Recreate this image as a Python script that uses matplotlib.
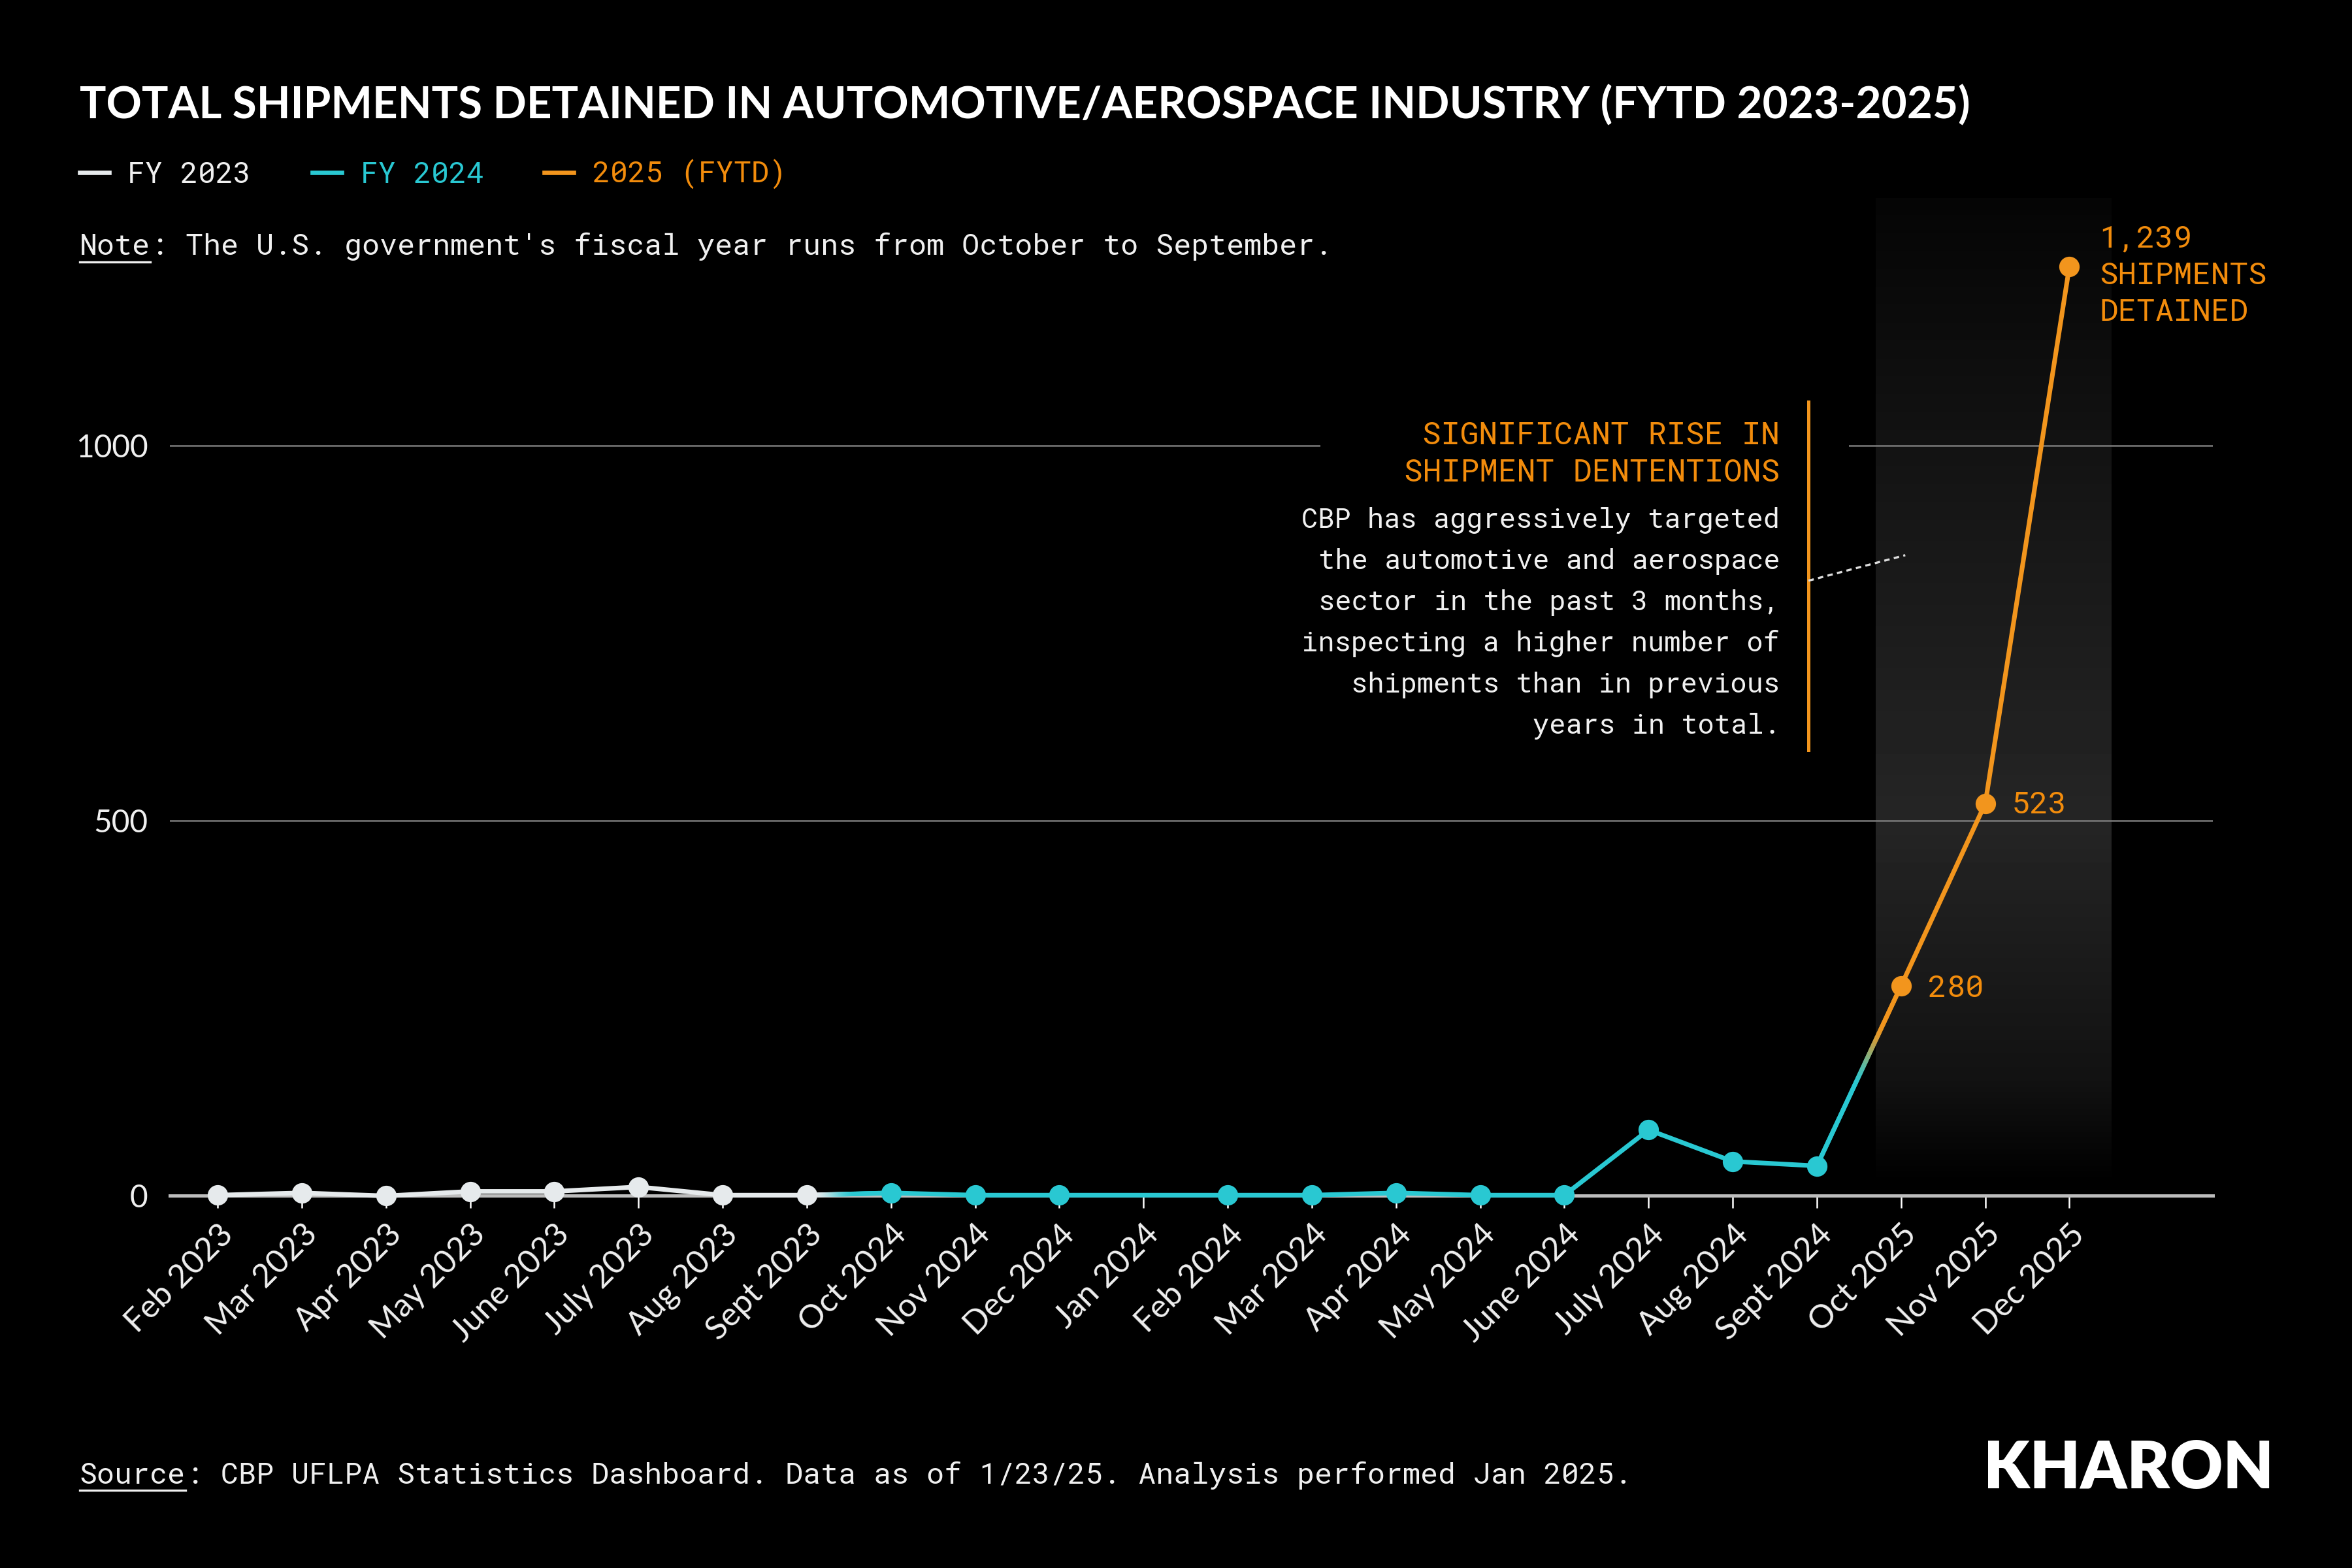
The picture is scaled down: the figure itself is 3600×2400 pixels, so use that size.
import numpy as np
import matplotlib
matplotlib.use("Agg")
import matplotlib.pyplot as plt
from matplotlib.collections import LineCollection
from matplotlib.colors import to_rgb
from matplotlib.lines import Line2D
from matplotlib.patches import Rectangle

MONO = ["Roboto Mono", "DejaVu Sans Mono", "Liberation Mono"]
SANS = ["Lato", "DejaVu Sans"]

months = [
    "Feb 2023", "Mar 2023", "Apr 2023", "May 2023", "June 2023", "July 2023",
    "Aug 2023", "Sept 2023", "Oct 2024", "Nov 2024", "Dec 2024", "Jan 2024",
    "Feb 2024", "Mar 2024", "Apr 2024", "May 2024", "June 2024", "July 2024",
    "Aug 2024", "Sept 2024", "Oct 2025", "Nov 2025", "Dec 2025",
]
fy2023 = [1, 4, 0, 6, 6, 12, 1, 1]
fy2024 = [4, 1, 1, None, 1, 1, 4, 1, 1, 88, 46, 40]  # no value for Jan 2024
fy2025 = [280, 523, 1239]
yticks = [0, 500, 1000]

WHITE = "#e6eaec"
CYAN = "#29c8d2"
ORANGE = "#f2951d"
ORANGE_TXT = "#f28c0c"
TEXT = "#f0f0f0"


def gradient_segment(ax, p0, p1, c0, c1, a, b, n=80):
    # one connecting segment, split only so the colour can fade along it
    t = np.linspace(0, 1, n + 1)
    xs = p0[0] + (p1[0] - p0[0]) * t
    ys = p0[1] + (p1[1] - p0[1]) * t
    segs = np.stack([np.column_stack([xs[:-1], ys[:-1]]),
                     np.column_stack([xs[1:], ys[1:]])], axis=1)
    tm = np.clip(((t[:-1] + t[1:]) / 2 - a) / (b - a), 0, 1)
    tm = tm * tm * (3 - 2 * tm)
    c0, c1 = np.array(to_rgb(c0)), np.array(to_rgb(c1))
    cols = c0 + (c1 - c0) * tm[:, None]
    lc = LineCollection(segs, colors=cols, linewidths=1.7, capstyle="round",
                        zorder=3, clip_on=False)
    ax.add_collection(lc)


fig = plt.figure(figsize=(12, 8), dpi=300, facecolor="black")
ax = fig.add_axes([0.0721, 0.2373, 0.8686, 0.6364])
ax.set_facecolor("black")

x23 = np.arange(len(fy2023))
x24 = np.arange(len(fy2024)) + len(fy2023)
x25 = np.arange(len(fy2025)) + len(fy2023) + len(fy2024)

# highlighted band behind the last three months
yy = np.linspace(15, 1330, 300)
shade = np.interp(yy, [15, 150, 500, 900, 1330], [0.0, 0.07, 0.145, 0.09, 0.02])
ax.imshow(shade[::-1, None], cmap="gray", vmin=0, vmax=1, aspect="auto",
          extent=[19.7, 22.5, 15, 1330], zorder=0.5, interpolation="bilinear")

for v in yticks[1:]:
    ax.axhline(v, color="#7a7a7a", lw=0.6, zorder=1)

# black panel that the annotation sits on
ax.add_patch(Rectangle((13.1, 580), 6.28, 520, facecolor="black",
                       edgecolor="none", zorder=1.5))

mk = dict(marker="o", markersize=6.5, lw=1.7, zorder=4, clip_on=False,
          solid_capstyle="round")
ax.plot(x23, fy2023, color=WHITE, **mk)
x24v = [x for x, v in zip(x24, fy2024) if v is not None]
y24v = [v for v in fy2024 if v is not None]
ax.plot(x24v, y24v, color=CYAN, **mk)
ax.plot(x25, fy2025, color=ORANGE, **mk)

gradient_segment(ax, (x23[-1], fy2023[-1]), (x24[0], fy2024[0]), WHITE, CYAN, 0.1, 0.6)
gradient_segment(ax, (x24[-1], fy2024[-1]), (x25[0], fy2025[0]), CYAN, ORANGE, 0.45, 0.8)

# value labels
lab = dict(textcoords="offset points", ha="left", color=ORANGE_TXT,
           fontsize=11.4, fontweight="bold", family=MONO)
ax.annotate(f"{fy2025[0]}", (x25[0], fy2025[0]), xytext=(10, -1), va="center", **lab)
ax.annotate(f"{fy2025[1]}", (x25[1], fy2025[1]), xytext=(9.5, -0.5), va="center", **lab)
ax.annotate(f"{fy2025[2]:,}\nSHIPMENTS\nDETAINED", (x25[2], fy2025[2]),
            xytext=(11, 15.5), va="top", linespacing=1.36, **lab)

# annotation block
ann_x = 18.56
head = ["SIGNIFICANT RISE IN", "SHIPMENT DENTENTIONS"]
body = ["CBP has aggressively targeted", "the automotive and aerospace",
        "sector in the past 3 months,", "inspecting a higher number of",
        "shipments than in previous", "years in total."]
for i, line in enumerate(head):
    ax.annotate(line, (ann_x, 1002), xytext=(0, -i * 13.8),
                textcoords="offset points", ha="right", va="baseline",
                color=ORANGE_TXT, fontsize=11.5, fontweight="bold",
                family=MONO, zorder=5)
for i, line in enumerate(body):
    ax.annotate(line, (ann_x, 890), xytext=(0, -i * 15.1),
                textcoords="offset points", ha="right", va="baseline",
                color=TEXT, fontsize=10.1, family=MONO, zorder=5)
ax.plot([18.9, 18.9], [594, 1058], color=ORANGE, lw=1.2, zorder=5)
ax.plot([18.9, 20.05], [820, 854], color="#dddddd", lw=0.8,
        ls=(0, (2.5, 2)), zorder=5)

ax.set_xlim(-0.57, 23.7)
ax.set_ylim(0, 1330)
for side in ["top", "left", "right"]:
    ax.spines[side].set_visible(False)
ax.spines["bottom"].set_color("#bdbdbd")
ax.spines["bottom"].set_linewidth(1.2)
ax.spines["bottom"].set_zorder(2)

ax.set_xticks(range(len(months)))
ax.set_xticklabels(months, rotation=45, ha="right", rotation_mode="anchor",
                   family=SANS, fontweight="normal")
ax.tick_params(axis="x", colors="white", length=4.5, width=0.6, pad=4,
               labelsize=12, labelcolor=TEXT)
ax.set_yticks(yticks)
ax.set_yticklabels([str(v) for v in yticks], family=SANS, fontweight="normal")
ax.tick_params(axis="y", length=0, pad=8, labelsize=11.5, labelcolor=TEXT)

# title, legend, note, source
fig.text(0.0338, 0.9244, "TOTAL SHIPMENTS DETAINED IN AUTOMOTIVE/AEROSPACE "
         "INDUSTRY (FYTD 2023-2025)", color="white", fontsize=16.2,
         fontweight="bold", family=SANS, va="baseline")

legend = [("FY 2023", WHITE, TEXT, 0.0338), ("FY 2024", CYAN, CYAN, 0.1327),
          ("2025 (FYTD)", ORANGE, ORANGE_TXT, 0.2315)]
for label, lc, tc, x0 in legend:
    fig.add_artist(Line2D([x0, x0 + 0.0125], [0.890, 0.890], color=lc,
                          lw=1.6, transform=fig.transFigure))
    fig.text(x0 + 0.0205, 0.8833, label, color=tc, fontsize=10.8,
             family=MONO, va="baseline")


def underlined(x, y, bold, rest):
    t = fig.text(x, y, bold, color=TEXT, fontsize=10.8, fontweight="bold",
                 family=MONO, va="baseline")
    bb = t.get_window_extent(renderer=fig.canvas.get_renderer())
    bb = bb.transformed(fig.transFigure.inverted())
    fig.text(bb.x1, y, rest, color=TEXT, fontsize=10.8, fontweight="light",
             family=MONO, va="baseline")
    fig.add_artist(Line2D([bb.x0, bb.x1], [y - 0.0042] * 2, color=TEXT,
                          lw=0.8, transform=fig.transFigure))


underlined(0.0338, 0.8373, "Note",
           ": The U.S. government's fiscal year runs from October to September.")
underlined(0.0338, 0.0536, "Source",
           ": CBP UFLPA Statistics Dashboard. Data as of 1/23/25. "
           "Analysis performed Jan 2025.")

fig.text(0.9668, 0.0507, "KHARON", color="white", fontsize=24,
         fontweight="heavy", family=SANS, ha="right", va="baseline")

fig.savefig("out.png", dpi=300, facecolor="black")
